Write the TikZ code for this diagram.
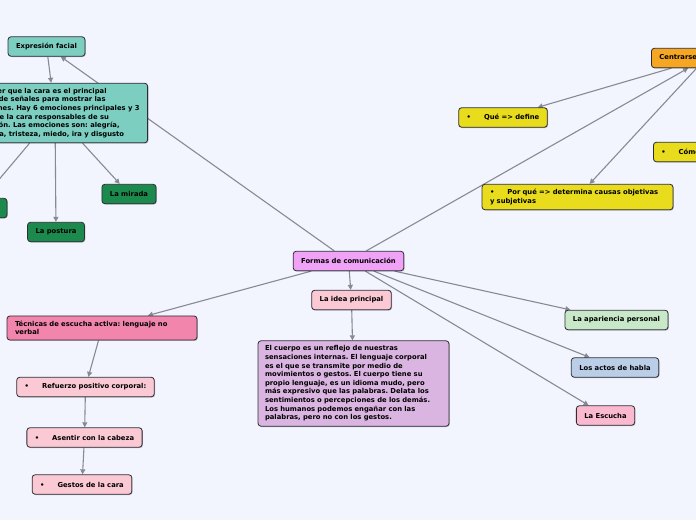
\documentclass[tikz,border=0pt]{standalone}
\usepackage{fontspec}
\setmainfont{DejaVu Sans}
\usetikzlibrary{
  arrows.meta,
  backgrounds,
  shadows
}
\definecolor{canvas}{RGB}{243,245,254}
\definecolor{outline}{RGB}{45,45,55}
\definecolor{linkgray}{RGB}{135,138,148}
\definecolor{teal}{RGB}{124,206,193}
\definecolor{dkgreen}{RGB}{27,138,76}
\definecolor{violeta}{RGB}{240,162,247}
\definecolor{rosalt}{RGB}{250,201,211}
\definecolor{lila}{RGB}{219,181,225}
\definecolor{rosa}{RGB}{242,133,172}
\definecolor{verdelt}{RGB}{200,232,200}
\definecolor{azullt}{RGB}{186,206,232}
\definecolor{rosaesc}{RGB}{250,185,206}
\definecolor{naranja}{RGB}{245,166,35}
\definecolor{amarillo}{RGB}{232,220,28}
\newcommand{\vineta}{\textbullet\hspace{13pt}}
\frenchspacing

\begin{document}
\begin{tikzpicture}[
  x=1pt, y=-1pt,
  every node/.style={font=\bfseries\fontsize{6.8}{8.6}\selectfont},
  topic/.style={draw=outline, line width=0.8pt, rounded corners=3pt,
                inner xsep=8pt, inner ysep=5pt, minimum height=19.5pt,
                drop shadow={shadow xshift=0.8pt, shadow yshift=-0.8pt,
                             opacity=0.25, fill=black}},
  link/.style={-{Triangle[length=5pt, width=5pt]}, draw=linkgray, line width=1.1pt}
]
\useasboundingbox (0,0) rectangle (696,520);
\clip (0,0) rectangle (696,520);

% left branch
\node[topic, fill=teal] (expr) at (46.5,46.5) {Expresión facial};
\node[topic, fill=teal, align=left, anchor=east] (cara) at (148,113)
  {Entender que la cara es el principal\\
   emisor de señales para mostrar las\\
   emociones. Hay 6 emociones principales y 3\\
   zonas de la cara responsables de su\\
   expresión. Las emociones son: alegría,\\
   sorpresa, tristeza, miedo, ira y disgusto};
\node[topic, fill=dkgreen, minimum width=64pt] (oculto) at (-25,208) {};
\node[topic, fill=dkgreen] (mirada) at (129,194) {La mirada};
\node[topic, fill=dkgreen] (postura) at (56,232) {La postura};

% centre
\node[topic, fill=violeta] (formas) at (348.5,261) {Formas de comunicación};
\node[topic, fill=rosalt] (idea) at (351.5,300) {La idea principal};
\node[topic, fill=lila, align=left, text width=177pt, inner xsep=7pt] (cuerpo) at (353.5,383.5)
  {El cuerpo es un reflejo de nuestras\\
   sensaciones internas. El lenguaje corporal\\
   es el que se transmite por medio de\\
   movimientos o gestos. El cuerpo tiene su\\
   propio lenguaje, es un idioma mudo, pero\\
   más expresivo que las palabras. Delata los\\
   sentimientos o percepciones de los demás.\\
   Los humanos podemos engañar con las\\
   palabras, pero no con los gestos.};

% lower left
\node[topic, fill=rosa, align=left, text width=174pt] (tecnicas) at (102,328)
  {Técnicas de escucha activa: lenguaje no\\verbal};
\node[topic, fill=rosalt] (refuerzo) at (85.5,387) {\vineta Refuerzo positivo corporal:};
\node[topic, fill=rosalt] (asentir) at (84.5,437.5) {\vineta Asentir con la cabeza};
\node[topic, fill=rosalt] (gestos) at (82,484.5) {\vineta Gestos de la cara};

% right
\node[topic, fill=verdelt] (apariencia) at (616.5,320) {La apariencia personal};
\node[topic, fill=azullt] (actos) at (615,367.5) {Los actos de habla};
\node[topic, fill=rosaesc] (escucha) at (605.5,415.5) {La Escucha};

% upper right
\node[topic, fill=naranja, anchor=west] (centrarse) at (651,58) {Centrarse en el mensaje};
\node[topic, fill=amarillo] (que) at (503,117.5) {\vineta Qué => define};
\node[topic, fill=amarillo, anchor=west] (como) at (653,152) {\vineta Cómo => actúa};
\node[topic, fill=amarillo, align=left, text width=175pt] (porque) at (577.5,197)
  {\vineta Por qué => determina causas objetivas\\y subjetivas};

\begin{scope}[on background layer]
  \fill[canvas] (0,0) rectangle (696,520);
  \draw[link] (formas) -- (expr);
  \draw[link] (expr) -- (cara);
  \draw[link] (cara) -- (oculto);
  \draw[link] (cara) -- (postura);
  \draw[link] (cara) -- (mirada);
  \draw[link] (formas) -- (idea);
  \draw[link] (idea) -- (cuerpo);
  \draw[link] (formas) -- (tecnicas);
  \draw[link] (tecnicas) -- (refuerzo);
  \draw[link] (refuerzo) -- (asentir);
  \draw[link] (asentir) -- (gestos);
  \draw[link] (formas) -- (apariencia);
  \draw[link] (formas) -- (actos);
  \draw[link] (formas) -- (escucha);
  \draw[link] (formas) -- (centrarse);
  \draw[link] (centrarse) -- (que);
  \draw[link] (centrarse) -- (como);
  \draw[link] (centrarse) -- (porque);
\end{scope}

\end{tikzpicture}
\end{document}
